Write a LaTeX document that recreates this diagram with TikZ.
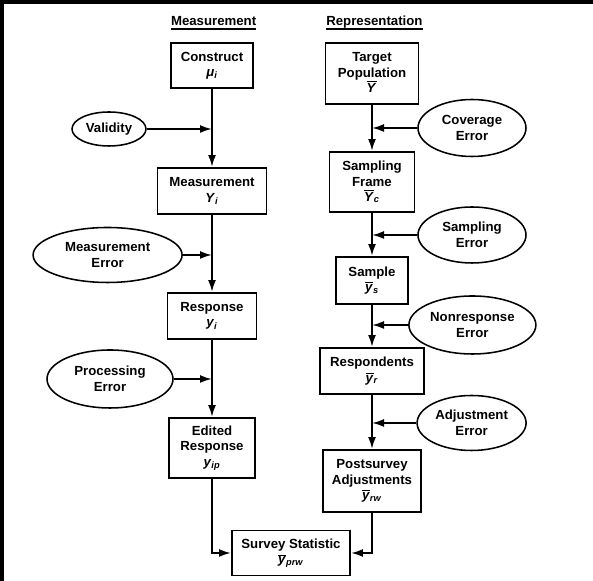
\documentclass[tikz,border=0pt]{standalone}
\usepackage{fontspec}
\setmainfont{Liberation Sans}
\usepackage{tikz}
\usetikzlibrary{arrows.meta,shapes.geometric}

\newcommand{\ivar}[2]{\textit{#1}\textsubscript{\textit{#2}}}
\newcommand{\bvar}[2]{$\overline{\mbox{\textit{#1}}}$\textsubscript{\textit{#2}}}

\begin{document}
\begin{tikzpicture}[scale=1.0, >={Latex[length=3mm,width=2mm]}, line join=miter,
  every node/.style={font=\fontsize{9.4}{11}\selectfont\bfseries},
  box/.style={draw, line width=1.4pt, align=center, inner sep=0pt},
  oval/.style={draw, ellipse, line width=1.1pt, align=center, inner sep=0pt},
  flow/.style={->, line width=1.4pt}]

  \useasboundingbox (0,0) rectangle (14.825,14.525);
  \fill[black] (0,14.42) rectangle (14.825,14.525);
  \fill[black] (0,0) rectangle (0.11,14.525);

  \node[inner sep=0pt, anchor=base] (hmeas) at (5.34,13.875) {Measurement};
  \node[inner sep=0pt, anchor=base] (hrep) at (9.36,13.875) {Representation};
  \draw[line width=1.4pt] ([yshift=-2.4pt]hmeas.base west) -- ([yshift=-2.4pt]hmeas.base east);
  \draw[line width=1.4pt] ([yshift=-2.4pt]hrep.base west) -- ([yshift=-2.4pt]hrep.base east);

  \node[box, minimum width=2.05cm, minimum height=1.125cm] (cons) at (5.3,12.8875)
      {Construct\\\ivar{μ}{i}};
  \node[box, minimum width=2.725cm, minimum height=1.15cm] (meas) at (5.3,9.75)
      {Measurement\\\ivar{Y}{i}};
  \node[box, minimum width=2.225cm, minimum height=1.15cm] (resp) at (5.3,6.625)
      {Response\\\ivar{y}{i}};
  \node[box, minimum width=2.15cm, minimum height=1.5cm] (edit) at (5.3,3.325)
      {Edited\\Response\\\ivar{y}{ip}};
  \node[box, minimum width=2.95cm, minimum height=1.125cm] (stat) at (7.275,0.7)
      {Survey Statistic\\\bvar{y}{prw}};

  \node[box, minimum width=2.325cm, minimum height=1.525cm] (targ) at (9.3,12.6875)
      {Target\\Population\\\bvar{Y}{}};
  \node[box, minimum width=2.125cm, minimum height=1.5cm] (frame) at (9.3,9.975)
      {Sampling\\Frame\\\bvar{Y}{c}};
  \node[box, minimum width=1.8cm, minimum height=1.175cm] (samp) at (9.3,7.5125)
      {Sample\\\bvar{y}{s}};
  \node[box, minimum width=2.6cm, minimum height=1.15cm] (rspd) at (9.3,5.25)
      {Respondents\\\bvar{y}{r}};
  \node[box, minimum width=2.45cm, minimum height=1.55cm] (post) at (9.3,2.5)
      {Postsurvey\\Adjustments\\\bvar{y}{rw}};

  \node[oval, minimum width=1.85cm, minimum height=0.85cm] (valid) at (2.725,11.3) {Validity};
  \node[oval, minimum width=3.725cm, minimum height=1.375cm] (merr) at (2.69,8.15)
      {Measurement\\Error};
  \node[oval, minimum width=3.15cm, minimum height=1.45cm] (perr) at (2.75,5.05)
      {Processing\\Error};
  \node[oval, minimum width=2.7cm, minimum height=1.425cm] (cerr) at (11.8,11.325)
      {Coverage\\Error};
  \node[oval, minimum width=2.7cm, minimum height=1.4cm] (serr) at (11.8,8.65)
      {Sampling\\Error};
  \node[oval, minimum width=3.175cm, minimum height=1.45cm] (nerr) at (11.81,6.4)
      {Nonresponse\\Error};
  \node[oval, minimum width=2.725cm, minimum height=1.375cm] (aerr) at (11.79,3.95)
      {Adjustment\\Error};

  \draw[flow] (cons) -- (meas);
  \draw[flow] (meas) -- (resp);
  \draw[flow] (resp) -- (edit);
  \draw[flow] (edit.south) |- (stat.west);
  \draw[flow] (targ) -- (frame);
  \draw[flow] (frame) -- (samp);
  \draw[flow] (samp) -- (rspd);
  \draw[flow] (rspd) -- (post);
  \draw[flow] (post.south) |- (stat.east);

  \draw[flow] (valid.east) -- (valid.east -| cons.south);
  \draw[flow] (merr.east) -- (merr.east -| cons.south);
  \draw[flow] (perr.east) -- (perr.east -| cons.south);
  \draw[flow] (cerr.west) -- (cerr.west -| targ.south);
  \draw[flow] (serr.west) -- (serr.west -| targ.south);
  \draw[flow] (nerr.west) -- (nerr.west -| targ.south);
  \draw[flow] (aerr.west) -- (aerr.west -| targ.south);
\end{tikzpicture}
\end{document}
